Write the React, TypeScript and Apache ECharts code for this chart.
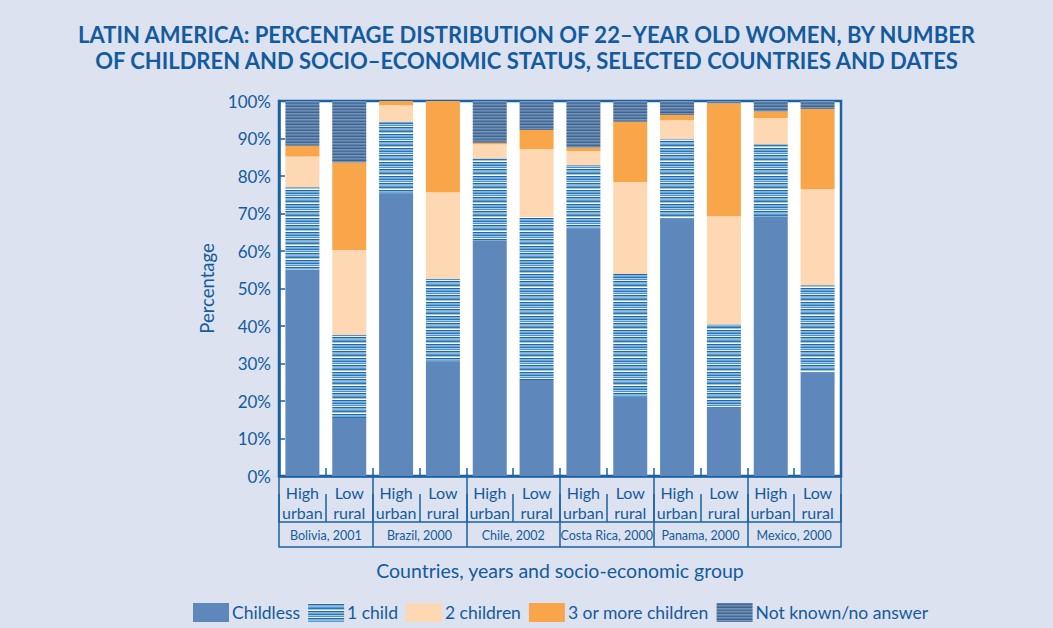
import React, { useEffect, useRef } from "react";
import * as echarts from "echarts";

const groups = ["High\nurban", "Low\nrural", "High\nurban", "Low\nrural", "High\nurban", "Low\nrural", "High\nurban", "Low\nrural", "High\nurban", "Low\nrural", "High\nurban", "Low\nrural"];
const countries = ["Bolivia, 2001", "Brazil, 2000", "Chile, 2002", "Costa Rica, 2000", "Panama, 2000", "Mexico, 2000"];
const seriesNames = ["Childless", "1 child", "2 children", "3 or more children", "Not known/no answer"];
const titleLines = [
  "LATIN AMERICA: PERCENTAGE DISTRIBUTION OF 22–YEAR OLD WOMEN, BY NUMBER",
  "OF CHILDREN AND SOCIO–ECONOMIC STATUS, SELECTED COUNTRIES AND DATES",
];

const childless = [55.0, 15.5, 75.4, 30.6, 62.9, 25.6, 65.9, 20.9, 68.7, 18.2, 69.3, 27.6];
const oneChild = [22.0, 22.1, 19.0, 22.1, 21.8, 43.5, 17.0, 33.0, 21.1, 22.3, 19.2, 23.3];
const twoChildren = [8.2, 22.7, 4.5, 23.0, 3.8, 18.1, 3.8, 24.5, 5.1, 28.8, 7.0, 25.6];
const threePlus = [2.9, 23.3, 1.1, 24.3, 0.4, 5.1, 0.9, 16.1, 1.4, 30.1, 1.7, 21.4];
const notKnown = [11.9, 16.4, 0.0, 0.0, 11.1, 7.7, 12.4, 5.5, 3.7, 0.6, 2.8, 2.1];

const yTicks = { min: 0, max: 100, interval: 10 };

const TEXT = "#135b9e";
const LINE = "#1a62a3";
const FONT = "Lato";

const oneChildStripes = ["#e8f1f9", "#1a68ab", "#7eb1da", "#8fbde0", "#5d9acb", "#2a75b3", "#9cc4e4", "#ffffff", "#1a68ab", "#86b6dc", "#6fa6d3", "#2a75b3", "#a9cbe7", "#4f8fc4"];
const notKnownStripes = ["#5d7fa6", "#44699a", "#6a8bb2", "#5a7ca4", "#3c6390", "#7393b8", "#5d7fa6", "#4a6f9b", "#6c8db3", "#577aa3", "#3f6693", "#7897bb"];

function makePattern(rows: string[]) {
  const c = document.createElement("canvas");
  c.width = 4;
  c.height = rows.length;
  const ctx = c.getContext("2d")!;
  rows.forEach((col, i) => {
    ctx.fillStyle = col;
    ctx.fillRect(0, i, 4, 1);
  });
  return { image: c.toDataURL(), repeat: "repeat", imageWidth: 4, imageHeight: rows.length } as any;
}

export default function App() {
  const ref = useRef<HTMLDivElement>(null);
  useEffect(() => {
    if (!ref.current) return;
    const chart = echarts.init(ref.current, null, { renderer: "svg" });
    const colors: any[] = ["#5e88bb", makePattern(oneChildStripes), "#fdd8b2", "#f9a54a", makePattern(notKnownStripes)];
    const values = [childless, oneChild, twoChildren, threePlus, notKnown];
    const option: any = {
      animation: false,
      backgroundColor: "#dde2f0",
      title: {
        text: titleLines.join("\n"),
        left: "center",
        top: 21,
        padding: 0,
        textStyle: { color: TEXT, fontFamily: FONT, fontWeight: "bold", fontSize: 22, lineHeight: 26.5 },
      },
      legend: {
        left: 188,
        top: 598,
        icon: "rect",
        itemWidth: 36,
        itemHeight: 19,
        itemGap: 8,
        data: seriesNames,
        textStyle: { color: TEXT, fontFamily: FONT, fontSize: 17.5, padding: [0, 0, 0, -2] },
      },
      grid: {
        left: 279,
        right: 212,
        top: 101,
        bottom: 152,
        show: true,
        backgroundColor: "#ffffff",
        borderColor: LINE,
        borderWidth: 2.5,
      },
      xAxis: [
        {
          type: "category",
          data: groups,
          position: "bottom",
          axisLine: { show: true, lineStyle: { color: LINE, width: 2.5 } },
          axisTick: { show: true, inside: true, length: 8, interval: 0, lineStyle: { color: LINE, width: 1.5 } },
          axisLabel: { interval: 0, color: TEXT, fontFamily: FONT, fontSize: 16, lineHeight: 20, margin: 6 },
        },
        {
          type: "category",
          data: countries,
          position: "bottom",
          offset: 71,
          axisLine: { show: true, lineStyle: { color: LINE, width: 1.5 } },
          axisTick: { show: true, inside: true, length: 70, interval: 0, lineStyle: { color: LINE, width: 1.5 } },
          axisLabel: { inside: true, interval: 0, color: TEXT, fontFamily: FONT, fontSize: 12.5, margin: 5 },
          name: "Countries, years and socio-economic group",
          nameLocation: "middle",
          nameGap: 13,
          nameTextStyle: { color: TEXT, fontFamily: FONT, fontSize: 19.5, verticalAlign: "top" },
        },
        {
          type: "category",
          data: groups,
          position: "bottom",
          offset: 46,
          axisLine: { show: true, lineStyle: { color: LINE, width: 1.5 } },
          axisTick: { show: true, inside: true, length: 28, interval: 0, lineStyle: { color: LINE, width: 1.5 } },
          axisLabel: { show: false },
        },
      ],
      yAxis: {
        type: "value",
        min: yTicks.min,
        max: yTicks.max,
        interval: yTicks.interval,
        name: "Percentage",
        nameLocation: "middle",
        nameGap: 46,
        nameTextStyle: { color: TEXT, fontFamily: FONT, fontSize: 18.5 },
        axisLine: { show: true, lineStyle: { color: LINE, width: 2.5 } },
        axisTick: { show: true, inside: true, length: 6, lineStyle: { color: LINE, width: 1.5 } },
        axisLabel: { formatter: "{value}%", color: TEXT, fontFamily: FONT, fontSize: 17, margin: 8 },
        splitLine: { show: false },
      },
      series: seriesNames.map((name, i) => ({
        name,
        type: "bar",
        stack: "total",
        xAxisIndex: 0,
        barWidth: 34,
        data: values[i],
        itemStyle: { color: colors[i] },
      })),
    };
    chart.setOption(option);
    return () => chart.dispose();
  }, []);
  return <div ref={ref} style={{ position: "fixed", left: 0, top: 0, width: 1053, height: 628 }} />;
}
